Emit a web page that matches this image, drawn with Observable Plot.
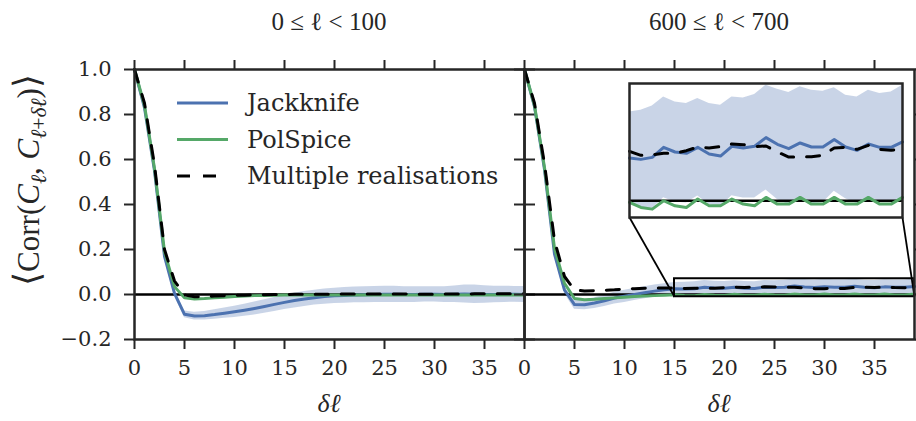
<!DOCTYPE html>
<html><head><meta charset="utf-8">
<script src="https://cdn.jsdelivr.net/npm/d3@7"></script>
<script src="https://cdn.jsdelivr.net/npm/@observablehq/plot@0.6"></script>
<style>
body{margin:0;background:#fff;}
#chart{position:relative;width:916px;height:421px;overflow:hidden;background:#fff;color:#262626;}
#chart svg{position:absolute;left:0;top:0;}
.lbl{position:absolute;white-space:nowrap;font-family:"Liberation Serif",serif;color:#262626;line-height:1;}
</style></head><body><div id="chart"></div>
<script>
// ---- data ----
const deltaEll = [0,1,2,3,4,5,6,7,8,9,10,11,12,13,14,15,16,17,18,19,20,21,22,23,24,25,26,27,28,29,30,31,32,33,34,35,36,37,38,39];
const xTicks = [0,5,10,15,20,25,30,35];
const yTicks = [-0.2,0.0,0.2,0.4,0.6,0.8,1.0];
const panelTitles = ["0 ≤ ℓ < 100", "600 ≤ ℓ < 700"];
const seriesNames = ["Jackknife", "PolSpice", "Multiple realisations"];

// left panel: 0 <= l < 100
const jackknifeL = [1.0,0.83,0.55,0.17,0.005,-0.088,-0.096,-0.094,-0.089,-0.083,-0.077,-0.07,-0.062,-0.053,-0.044,-0.035,-0.027,-0.02,-0.014,-0.009,-0.006,-0.004,-0.002,-0.001,0.0,0.001,0.001,0.0,0.0,0.001,0.001,0.0,0.001,0.002,0.001,0.0,0.0,0.001,0.001,0.0];
const jackknifeErrL = [0.002,0.004,0.006,0.01,0.012,0.015,0.017,0.019,0.021,0.023,0.025,0.027,0.029,0.03,0.031,0.032,0.033,0.033,0.033,0.034,0.034,0.035,0.035,0.036,0.036,0.036,0.036,0.035,0.035,0.034,0.034,0.035,0.037,0.04,0.041,0.039,0.037,0.036,0.035,0.036];
const polspiceL = [1.0,0.84,0.56,0.19,0.035,-0.015,-0.02,-0.018,-0.015,-0.012,-0.009,-0.007,-0.005,-0.004,-0.003,-0.002,-0.002,-0.002,-0.002,-0.002,-0.002,-0.002,-0.002,-0.002,-0.002,-0.002,-0.002,-0.002,-0.002,-0.002,-0.002,-0.002,-0.002,-0.002,-0.002,-0.002,-0.002,-0.002,-0.002,-0.002];
const realisationsL = [1.0,0.85,0.575,0.2,0.06,-0.002,-0.01,-0.009,-0.007,-0.005,-0.004,-0.003,-0.002,-0.001,0.0,0.0,0.001,0.001,0.001,0.001,0.001,0.002,0.002,0.002,0.002,0.002,0.002,0.002,0.001,0.001,0.001,0.002,0.002,0.002,0.003,0.003,0.003,0.003,0.003,0.003];

// right panel: 600 <= l < 700
const jackknifeR = [1.0,0.835,0.555,0.18,0.02,-0.045,-0.046,-0.038,-0.028,-0.016,-0.008,0.0,0.008,0.015,0.021,0.0255,0.0247,0.0259,0.0319,0.0291,0.0283,0.0319,0.0279,0.0267,0.0325,0.0315,0.0325,0.0377,0.0337,0.0311,0.0345,0.0321,0.0321,0.0365,0.0321,0.0301,0.0339,0.0319,0.0319,0.0351];
const jackknifeErrR = [0.002,0.004,0.006,0.01,0.015,0.02,0.022,0.024,0.025,0.026,0.027,0.027,0.027,0.027,0.027,0.0275,0.0293,0.0307,0.0301,0.0299,0.0297,0.0291,0.0301,0.0303,0.0295,0.0299,0.0309,0.0313,0.0329,0.0335,0.0335,0.0339,0.0333,0.0309,0.0309,0.0319,0.0321,0.0321,0.0331,0.0339];
const polspiceR = [1.0,0.84,0.565,0.205,0.05,-0.018,-0.023,-0.021,-0.018,-0.015,-0.012,-0.009,-0.007,-0.005,-0.003,-0.001,-0.004,-0.005,0.0,-0.003,-0.004,0.001,-0.003,-0.003,0.001,-0.002,-0.003,0.002,-0.002,-0.002,0.002,-0.002,-0.002,0.002,-0.002,-0.002,0.002,-0.002,-0.002,0.002];
const realisationsR = [1.0,0.85,0.58,0.24,0.08,0.02,0.016,0.017,0.019,0.021,0.024,0.026,0.028,0.029,0.029,0.0295,0.0271,0.0275,0.0283,0.0283,0.0299,0.0321,0.0315,0.0323,0.0339,0.0335,0.0323,0.0327,0.0291,0.0261,0.0261,0.0263,0.0271,0.0315,0.0319,0.0307,0.0331,0.0307,0.0301,0.0311];

// inset zoom window (data units of the right panel) and inset placement (right-panel data units)
const zoomX = [15, 39];
const zoomY = [-0.01, 0.07];
const insetX = [10.5, 37.8];
const insetY = [0.342, 0.938];

// ---- drawing ----
const BLUE = "#4C72B0", GREEN = "#55A868", INK = "#262626";
const rowsOf = (jk, err, ps, mr) => deltaEll.map((d, i) => ({dl: d, jk: jk[i], err: err[i], ps: ps[i], mr: mr[i]}));
const left = rowsOf(jackknifeL, jackknifeErrL, polspiceL, realisationsL);
const right = rowsOf(jackknifeR, jackknifeErrR, polspiceR, realisationsR);

function seriesMarks(rows) {
  return [
    Plot.areaY(rows, {x: "dl", y1: d => d.jk - d.err, y2: d => d.jk + d.err, fill: BLUE, fillOpacity: 0.3}),
    Plot.ruleY([0], {stroke: "#000", strokeWidth: 2.5}),
    Plot.line(rows, {x: "dl", y: "jk", stroke: BLUE, strokeWidth: 3}),
    Plot.line(rows, {x: "dl", y: "ps", stroke: GREEN, strokeWidth: 3}),
    Plot.line(rows, {x: "dl", y: "mr", stroke: "#000", strokeWidth: 3, strokeDasharray: "13,13"})
  ];
}

function panel(rows, ml, mr, showY, extra) {
  return Plot.plot({
    width: 916, height: 421,
    marginLeft: ml, marginRight: mr, marginTop: 69, marginBottom: 82,
    style: {background: "transparent", fontFamily: "DejaVu Serif", fontSize: "21px", color: INK, overflow: "visible"},
    x: {domain: [0, 39]},
    y: {domain: [-0.2, 1.0]},
    marks: [
      ...seriesMarks(rows),
      ...extra,
      Plot.frame({stroke: INK, strokeWidth: 2.5}),
      Plot.axisX({anchor: "bottom", ticks: xTicks, tickSize: 10, tickPadding: 11, strokeWidth: 2, label: null, tickFormat: d3.format("d")}),
      Plot.axisX({anchor: "top", ticks: xTicks, tickSize: 10, strokeWidth: 2, fill: "none", label: null}),
      showY
        ? Plot.axisY({anchor: "left", ticks: yTicks, tickSize: 10, tickPadding: 13, strokeWidth: 2, label: null, tickFormat: d3.format(".1f")})
        : Plot.axisY({anchor: "left", ticks: yTicks, tickSize: 10, strokeWidth: 2, fill: "none", label: null}),
      Plot.axisY({anchor: "right", ticks: yTicks, tickSize: 10, strokeWidth: 2, fill: "none", label: null})
    ]
  });
}

const chart = document.getElementById("chart");
const leftPlot = panel(left, 134, 392, true, []);
const box = [{x1: zoomX[0], x2: zoomX[1], y1: zoomY[0], y2: zoomY[1]}];
const connectors = [
  {x1: insetX[0], y1: insetY[0], x2: zoomX[0], y2: zoomY[0]},
  {x1: insetX[1], y1: insetY[0], x2: zoomX[1], y2: zoomY[0]}
];
const rightPlot = panel(right, 524, 2, false, [
  Plot.rect(box, {x1: "x1", x2: "x2", y1: "y1", y2: "y2", fill: "none", stroke: "#000", strokeWidth: 2}),
  Plot.link(connectors, {x1: "x1", y1: "y1", x2: "x2", y2: "y2", stroke: "#000", strokeWidth: 1.8})
]);
chart.appendChild(leftPlot);
chart.appendChild(rightPlot);

// inset
const xs = rightPlot.scale("x"), ys = rightPlot.scale("y");
const ix0 = xs.apply(insetX[0]), ix1 = xs.apply(insetX[1]);
const iy0 = ys.apply(insetY[1]), iy1 = ys.apply(insetY[0]);
const insetRows = right.filter(d => d.dl >= zoomX[0] && d.dl <= zoomX[1]);
const insetPlot = Plot.plot({
  width: Math.round(ix1 - ix0), height: Math.round(iy1 - iy0),
  margin: 0,
  style: {background: "#fff", overflow: "visible"},
  x: {domain: zoomX, axis: null},
  y: {domain: zoomY, axis: null},
  marks: [...seriesMarks(insetRows), Plot.frame({stroke: INK, strokeWidth: 2.5})]
});
insetPlot.style.left = ix0 + "px";
insetPlot.style.top = iy0 + "px";
chart.appendChild(insetPlot);

// legend
const leg = d3.create("svg").attr("width", 360).attr("height", 120)
  .style("left", "170px").style("top", "83px").style("overflow", "visible");
const legItems = [
  {name: seriesNames[0], color: BLUE, dash: null},
  {name: seriesNames[1], color: GREEN, dash: null},
  {name: seriesNames[2], color: "#000", dash: "13,13"}
];
legItems.forEach((it, i) => {
  const y = 20 + i * 36.5;
  leg.append("line").attr("x1", 7).attr("x2", 58).attr("y1", y).attr("y2", y)
    .attr("stroke", it.color).attr("stroke-width", 3).attr("stroke-dasharray", it.dash);
  leg.append("text").attr("x", 77).attr("y", y).attr("dy", "0.35em")
    .attr("font-family", "DejaVu Serif").attr("font-size", 24).attr("fill", INK).text(it.name);
});
chart.appendChild(leg.node());

// titles & axis labels
function addLabel(html, css) {
  const d = document.createElement("div");
  d.className = "lbl";
  d.innerHTML = html;
  Object.assign(d.style, css);
  chart.appendChild(d);
  return d;
}
const centers = [(134 + 524) / 2, (524 + 914) / 2];
centers.forEach((cx, i) => {
  addLabel(panelTitles[i], {left: cx + "px", top: "21px", fontSize: "25px", transform: "translate(-50%,-50%)"});
  addLabel("<i>δℓ</i>", {left: cx + "px", top: "404px", fontSize: "26px", transform: "translate(-50%,-50%)"});
});
addLabel("<span style='font-size:1.15em'>⟨</span>Corr(<i>C</i><sub style='font-size:0.7em'><i>ℓ</i></sub>, <i>C</i><sub style='font-size:0.7em'><i>ℓ</i>+<i>δℓ</i></sub>)<span style='font-size:1.15em'>⟩</span>",
  {left: "30px", top: "180px", fontSize: "31px", transform: "translate(-50%,-50%) rotate(-90deg)"});
</script></body></html>
